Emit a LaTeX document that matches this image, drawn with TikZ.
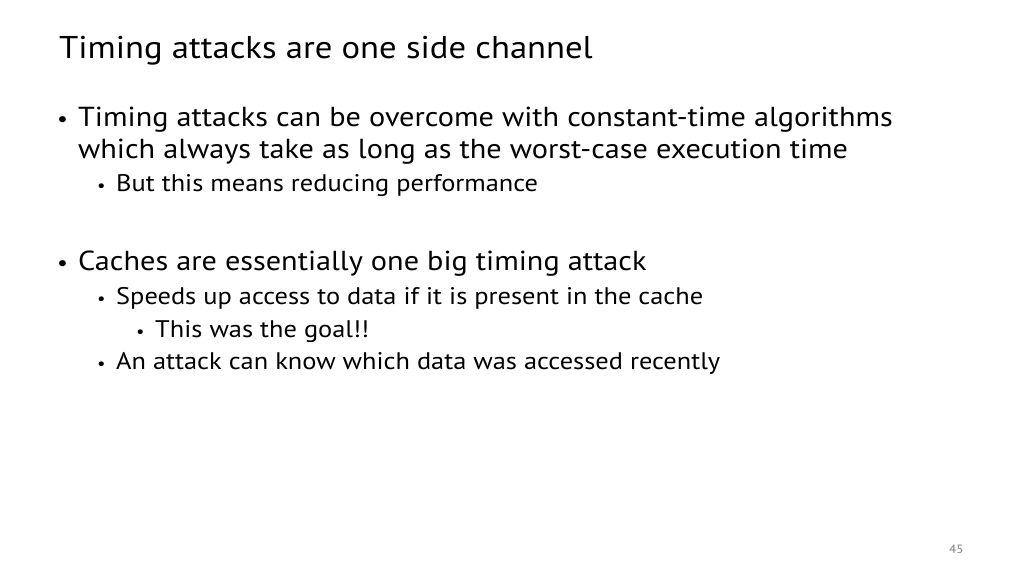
\documentclass[tikz,border=0pt]{standalone}
\usepackage{fontspec}
\setmainfont[FakeStretch=1.1]{PT Sans}
\begin{document}
\begin{tikzpicture}[x=1pt,y=-1pt,
  lone/.style={anchor=base west,inner sep=0pt,font=\fontsize{27.5}{30}\selectfont},
  ltwo/.style={anchor=base west,inner sep=0pt,font=\fontsize{24}{25}\selectfont},
  dot/.style={anchor=base west,inner sep=0pt}]
 \useasboundingbox[fill=white] (0,0) rectangle (1024,576);
 \node (title) [anchor=base west,inner sep=0pt,font=\fontsize{31.5}{34}\selectfont] at (59,58) {Timing attacks are one side channel};
 \node (b1) [lone] at (78,126) {Timing attacks can be overcome with constant-time algorithms};
 \node (b1b) [lone] at (78,158) {which always take as long as the worst-case execution time};
 \node (b11) [ltwo] at (116,191) {But this means reducing performance};
 \node (b2) [lone] at (78,270) {Caches are essentially one big timing attack};
 \node (b21) [ltwo] at (116,304) {Speeds up access to data if it is present in the cache};
 \node (b211) [ltwo] at (155,337) {This was the goal!!};
 \node (b22) [ltwo] at (116,369) {An attack can know which data was accessed recently};
 \foreach \x/\y/\s in {57/126/22, 57/270/22, 97/191/17, 97/304/17, 136/337/17, 97/369/17}
   \node [dot,font=\fontsize{\s}{\s}\selectfont] at (\x,\y) {•};
 \node (page) [anchor=base west,inner sep=0pt,font=\fontsize{12}{14}\selectfont,text=gray] at (949,553) {45};
\end{tikzpicture}
\end{document}
